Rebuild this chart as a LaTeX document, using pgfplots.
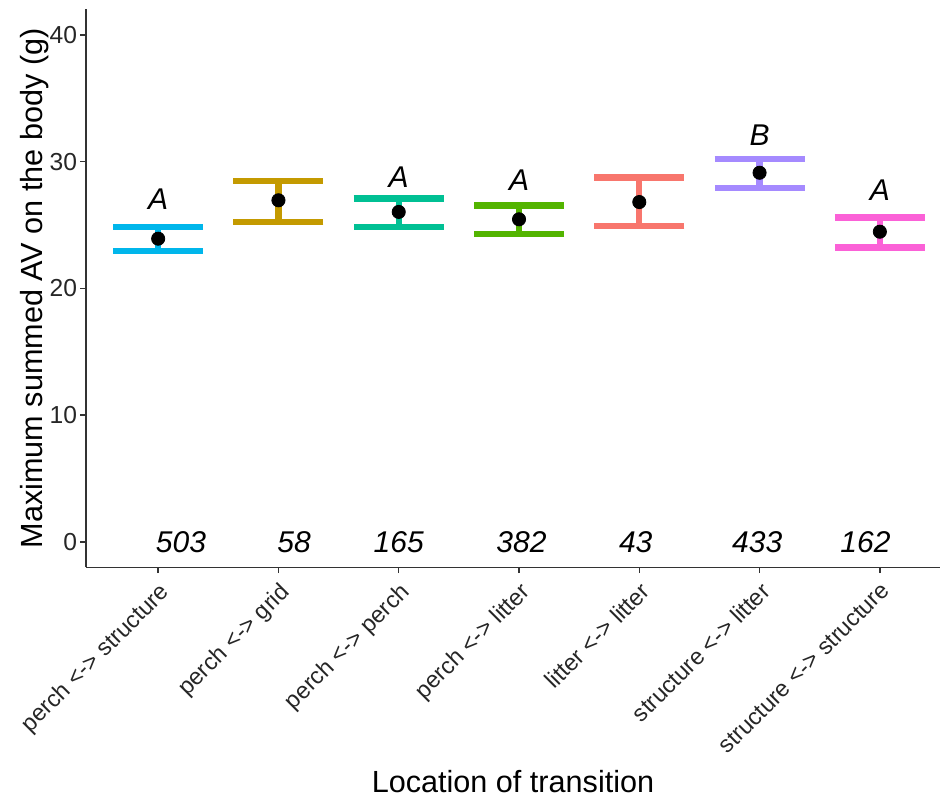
\documentclass[border=0pt]{standalone}
\usepackage{fontspec}
\setmainfont{Liberation Sans}
\usepackage{pgfplots}
\usepackage{pgfplotstable}
\pgfplotsset{compat=1.18}

% ggplot-style hue palette, one colour per transition type
\definecolor{cPS}{HTML}{00B6EB}
\definecolor{cPG}{HTML}{C49A00}
\definecolor{cPP}{HTML}{00C094}
\definecolor{cPL}{HTML}{53B400}
\definecolor{cLL}{HTML}{F8766D}
\definecolor{cSL}{HTML}{A58AFF}
\definecolor{cSS}{HTML}{FB61D7}

% mean and interval for each transition type
\pgfplotstableread{
x  m      lo     hi
1  23.92  22.97  24.82
2  26.95  25.26  28.47
3  26.03  24.82  27.10
4  25.45  24.27  26.55
5  26.81  24.92  28.73
6  29.12  27.92  30.20
7  24.47  23.21  25.60
}\means

% group letters above the intervals
\pgfplotstableread{
x  y      lab
1  27.00  A
3  28.80  A
4  28.55  A
6  32.10  B
7  27.76  A
}\letters

% number of transitions per type
\pgfplotstableread{
x     y  lab
1.19  0  503
2.13  0  58
3.00  0  165
4.02  0  382
4.97  0  43
5.98  0  433
6.88  0  162
}\counts

\pgfplotsset{
  ebar/.style={
    draw=none, mark=none, forget plot,
    error bars/.cd, y dir=both, y explicit,
    error bar style={line width=3.2pt, color=#1},
    error mark=|,
    error mark options={line width=3.2pt, mark size=22.5pt, color=#1},
  },
}

\begin{document}
\begin{tikzpicture}
\begin{axis}[
  scale only axis, width=427pt, height=279pt,
  xmin=0.4, xmax=7.5, ymin=-2, ymax=42,
  axis x line=bottom, axis y line=left,
  axis line style={-, line width=0.75pt, black!80},
  tick align=outside, major tick length=2.8pt,
  tick style={line width=0.75pt, black!80},
  xtick={1,...,7},
  xticklabels={perch <-> structure, perch <-> grid, perch <-> perch,
    perch <-> litter, litter <-> litter, structure <-> litter,
    structure <-> structure},
  xticklabel shift=2.5pt,
  xticklabel style={rotate=45, anchor=north east, inner sep=1pt,
    font=\fontsize{11.7}{14}\selectfont, text=black!85},
  ytick={0,10,20,30,40},
  /pgf/number format/assume math mode=true,
  yticklabel style={inner sep=1.5pt, font=\fontsize{12.3}{14}\selectfont, text=black!85},
  xlabel={Location of transition},
  ylabel={Maximum summed AV on the body (g)},
  xlabel style={at={(axis description cs:0.5,0)}, anchor=center, yshift=-107pt,
    font=\fontsize{15.3}{18}\selectfont},
  ylabel style={at={(axis description cs:0,0.5)}, anchor=center, yshift=25.5pt,
    font=\fontsize{15.3}{18}\selectfont},
  clip=false,
]
\addplot[ebar=cPS] coordinates {(1,23.92) += (0,0.90) -= (0,0.95)};
\addplot[ebar=cPG] coordinates {(2,26.95) += (0,1.52) -= (0,1.69)};
\addplot[ebar=cPP] coordinates {(3,26.03) += (0,1.07) -= (0,1.21)};
\addplot[ebar=cPL] coordinates {(4,25.45) += (0,1.10) -= (0,1.18)};
\addplot[ebar=cLL] coordinates {(5,26.81) += (0,1.92) -= (0,1.89)};
\addplot[ebar=cSL] coordinates {(6,29.12) += (0,1.08) -= (0,1.20)};
\addplot[ebar=cSS] coordinates {(7,24.47) += (0,1.13) -= (0,1.26)};

% means
\addplot[only marks, mark=*, mark size=3.3pt, black] table[x=x, y=m] {\means};

% letters and counts
\addplot[draw=none, mark=none, nodes near coords, point meta=explicit symbolic,
  every node near coord/.append style={anchor=center, inner sep=0pt,
    font=\fontsize{15}{18}\selectfont\itshape}]
  table[x=x, y=y, meta=lab] {\letters};
\addplot[draw=none, mark=none, nodes near coords, point meta=explicit symbolic,
  every node near coord/.append style={anchor=center, inner sep=0pt,
    font=\fontsize{15}{18}\selectfont\itshape}]
  table[x=x, y=y, meta=lab] {\counts};
\end{axis}
\pgfresetboundingbox
\path[use as bounding box] (current axis.south west) ++(-43pt,-115.3pt) rectangle ++(470pt,399pt);
\end{tikzpicture}
\end{document}
